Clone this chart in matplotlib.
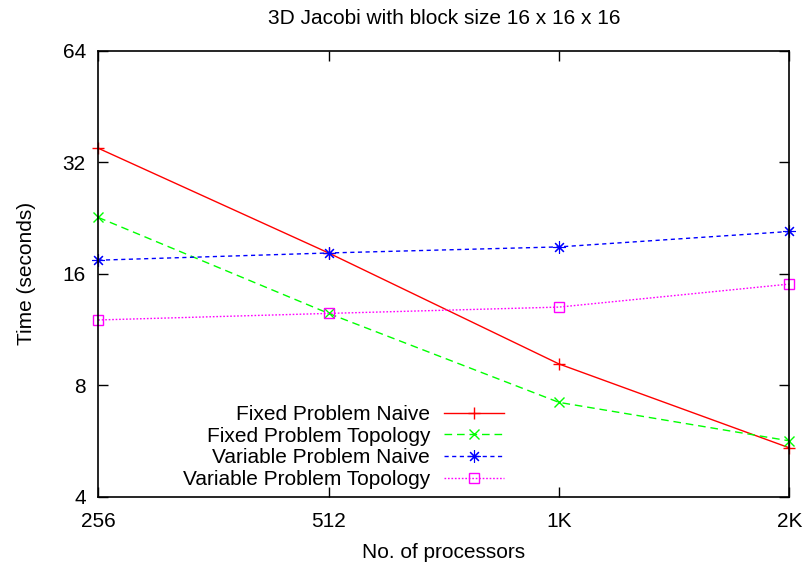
import matplotlib
matplotlib.use('Agg')
from matplotlib import pyplot as plt
from matplotlib.ticker import FixedLocator, FixedFormatter, NullLocator

plt.rcParams['font.family'] = ['Liberation Sans', 'DejaVu Sans']
plt.rcParams['font.size'] = 15

# processor counts and run times (seconds)
procs = [256, 512, 1024, 2048]
proc_labels = ['256', '512', '1K', '2K']
time_ticks = [4, 8, 16, 32, 64]

fixed_naive = [34.9, 18.2, 9.13, 5.42]
fixed_topology = [22.7, 12.5, 7.19, 5.66]
variable_naive = [17.4, 18.2, 18.9, 20.8]
variable_topology = [12.0, 12.5, 13.0, 15.0]

fig = plt.figure(figsize=(8.06, 5.67), dpi=100)
ax = fig.add_axes([0.12196, 0.12399, 0.85732, 0.78660])

ax.plot(procs, fixed_naive, color='#ff0000', lw=1, ls='-', marker='+',
        ms=8, mew=1, clip_on=False, label='Fixed Problem Naive')
ax.plot(procs, fixed_topology, color='#00ff00', lw=1, dashes=(5.5, 3.5), marker='x',
        ms=7, mew=1, clip_on=False, label='Fixed Problem Topology')
ax.plot(procs, variable_naive, color='#0000ff', lw=1, dashes=(3, 2.5), marker=(8, 2, 0),
        ms=9, mew=0.8, clip_on=False, label='Variable Problem Naive')
ax.plot(procs, variable_topology, color='#ff00ff', lw=1, dashes=(1.2, 1.3), marker='s',
        ms=7, mew=1, mfc='none', clip_on=False, label='Variable Problem Topology')

ax.set_xscale('log', base=2)
ax.set_yscale('log', base=2)
ax.set_xlim(256, 2048)
ax.set_ylim(4, 64)

ax.xaxis.set_major_locator(FixedLocator(procs))
ax.xaxis.set_major_formatter(FixedFormatter(proc_labels))
ax.xaxis.set_minor_locator(NullLocator())
ax.yaxis.set_major_locator(FixedLocator(time_ticks))
ax.yaxis.set_major_formatter(FixedFormatter([str(t) for t in time_ticks]))
ax.yaxis.set_minor_locator(NullLocator())

ax.tick_params(direction='in', length=7, width=1, top=True, right=True, pad=9)
ax.tick_params(axis='x', pad=11)
for sp in ax.spines.values():
    sp.set_linewidth(1.2)

ax.set_title('3D Jacobi with block size 16 x 16 x 16', fontsize=15, pad=19)
ax.set_xlabel('No. of processors', labelpad=9)
ax.set_ylabel('Time (seconds)', labelpad=19)

ax.legend(loc='lower right', bbox_to_anchor=(504 / 806, 1 - 489 / 567),
          bbox_transform=fig.transFigure, frameon=False, markerfirst=False,
          handlelength=2.9, handletextpad=0.65, labelspacing=0.13,
          borderpad=0, borderaxespad=0, fontsize=15)

fig.savefig('out.png', dpi=100)
